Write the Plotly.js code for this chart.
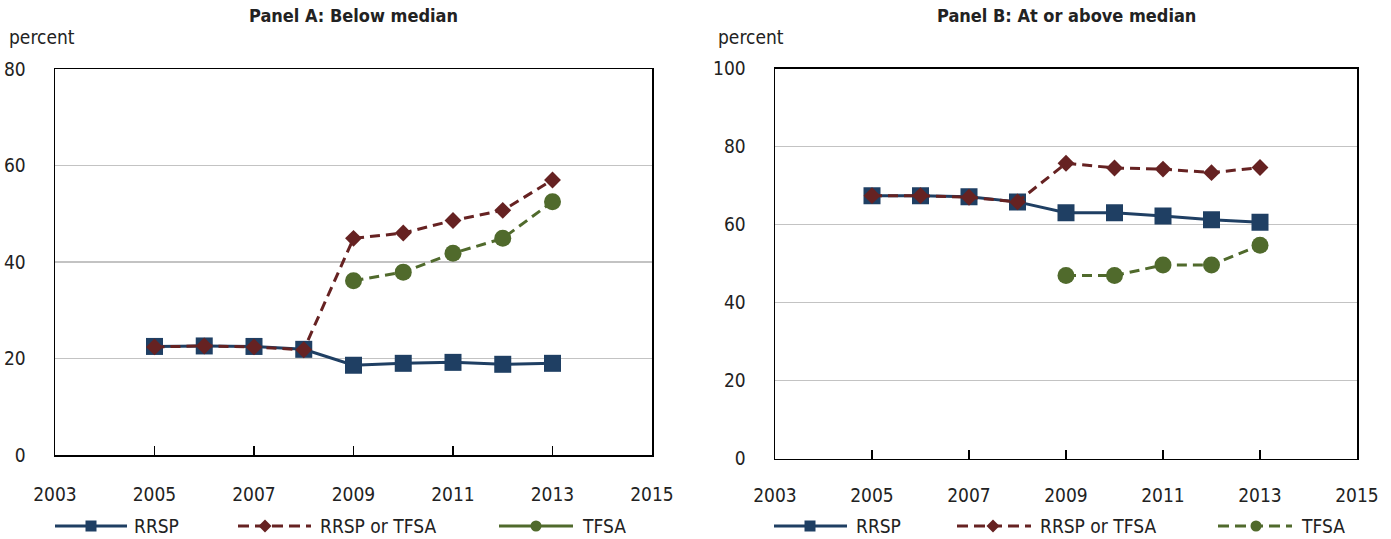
<!DOCTYPE html>
<html>
<head>
<meta charset="utf-8">
<script src="https://cdn.plot.ly/plotly-3.0.1.min.js"></script>
<style>html,body{margin:0;padding:0;background:#fff;}#chart{width:1391px;height:539px;}</style>
</head>
<body>
<div id="chart"></div>
<script>
// ---- data ----
const years = [2005, 2006, 2007, 2008, 2009, 2010, 2011, 2012, 2013];
const tfsaYears = [2009, 2010, 2011, 2012, 2013];

const panelA_RRSP = [22.5, 22.6, 22.5, 21.9, 18.6, 19.0, 19.2, 18.8, 19.0];
const panelA_RRSPorTFSA = [22.4, 22.6, 22.4, 21.8, 44.9, 46.0, 48.6, 50.7, 57.0];
const panelA_TFSA = [36.1, 37.9, 41.8, 44.9, 52.5];

const panelB_RRSP = [67.4, 67.4, 67.1, 65.8, 63.0, 63.0, 62.2, 61.2, 60.6];
const panelB_RRSPorTFSA = [67.4, 67.4, 67.0, 65.8, 75.7, 74.5, 74.2, 73.3, 74.6];
const panelB_TFSA = [46.9, 46.9, 49.6, 49.6, 54.7];

const seriesNames = ["RRSP", "RRSP or TFSA", "TFSA"];
const xTicks = [2003, 2005, 2007, 2009, 2011, 2013, 2015];
const yTicksA = [0, 20, 40, 60, 80];
const yTicksB = [0, 20, 40, 60, 80, 100];
const titles = ["Panel A: Below median", "Panel B: At or above median"];
const unitLabel = "percent";

// ---- styles ----
const W = 1391, H = 539;
const FONT = "'Liberation Sans Narrow', 'Arial Narrow', 'DejaVu Sans Condensed', sans-serif";
const NAVY = "#1f3f63", MAROON = "#662222", OLIVE = "#506a2c";
const DASH = "10px,6px";
const px = x => x / W;
const py = y => 1 - y / H;

function trace(x, y, name, color, dash, symbol, size, xa, ya) {
  return {
    x: x, y: y, name: name, type: "scatter", mode: "lines+markers",
    xaxis: xa, yaxis: ya, showlegend: false, hoverinfo: "skip",
    line: {color: color, width: 3, dash: dash},
    marker: {color: color, symbol: symbol, size: size, line: {width: 0}}
  };
}

const data = [
  trace(years, panelA_RRSP, seriesNames[0], NAVY, "solid", "square", 17, "x", "y"),
  trace(years, panelA_RRSPorTFSA, seriesNames[1], MAROON, DASH, "diamond", 13, "x", "y"),
  trace(tfsaYears, panelA_TFSA, seriesNames[2], OLIVE, DASH, "circle", 17, "x", "y"),
  trace(years, panelB_RRSP, seriesNames[0], NAVY, "solid", "square", 17, "x2", "y2"),
  trace(years, panelB_RRSPorTFSA, seriesNames[1], MAROON, DASH, "diamond", 13, "x2", "y2"),
  trace(tfsaYears, panelB_TFSA, seriesNames[2], OLIVE, DASH, "circle", 17, "x2", "y2")
];

function xaxis(domain, anchor, standoff) {
  return {
    domain: domain, anchor: anchor, range: [2003, 2015],
    tickvals: xTicks, ticktext: xTicks.map(String),
    ticks: "inside", ticklen: 9, tickwidth: 1.3, tickcolor: "#000",
    showline: true, mirror: true, linecolor: "#000", linewidth: 1.5,
    showgrid: false, zeroline: false, fixedrange: true,
    ticklabelstandoff: standoff,
    tickfont: {family: FONT, size: 19, color: "#222"}
  };
}
function yaxis(domain, anchor, range, ticks) {
  return {
    domain: domain, anchor: anchor, range: range,
    tickvals: ticks, ticktext: ticks.map(String), ticks: "",
    showline: true, mirror: true, linecolor: "#000", linewidth: 1.5,
    showgrid: true, gridcolor: "#c3c3c3", gridwidth: 1.3,
    zeroline: false, fixedrange: true, ticklabelstandoff: 24,
    tickfont: {family: FONT, size: 19, color: "#222"}
  };
}

const shapes = [];
const annotations = [];

function text(x, y, t, anchor, size, bold) {
  annotations.push({
    xref: "paper", yref: "paper", x: px(x), y: py(y), text: bold ? "<b>" + t + "</b>" : t,
    showarrow: false, xanchor: anchor, yanchor: "middle",
    font: {family: FONT, size: size, color: "#222"}
  });
}

function legendItem(x0, x1, mx, tx, yc, color, dashed, symbol, label) {
  shapes.push({type: "line", xref: "paper", yref: "paper",
    x0: px(x0), x1: px(x1), y0: py(yc), y1: py(yc),
    line: {color: color, width: 3, dash: dashed ? "11px,6px" : "solid"}});
  const r = 5.5;
  if (symbol === "square") {
    shapes.push({type: "rect", xref: "paper", yref: "paper",
      x0: px(mx - r), x1: px(mx + r), y0: py(yc + r), y1: py(yc - r),
      fillcolor: color, line: {width: 0}});
  } else if (symbol === "circle") {
    shapes.push({type: "circle", xref: "paper", yref: "paper",
      x0: px(mx - r), x1: px(mx + r), y0: py(yc + r), y1: py(yc - r),
      fillcolor: color, line: {width: 0}});
  } else {
    const d = 6.5;
    shapes.push({type: "path", xref: "paper", yref: "paper",
      path: "M" + px(mx - d) + "," + py(yc) + " L" + px(mx) + "," + py(yc - d) +
            " L" + px(mx + d) + "," + py(yc) + " L" + px(mx) + "," + py(yc + d) + " Z",
      fillcolor: color, line: {width: 0}});
  }
  text(tx, yc, label, "left", 19, false);
}

// Panel A legend (TFSA sample solid as in the reference)
legendItem(55, 127, 91, 132, 526, NAVY, false, "square", seriesNames[0]);
legendItem(238, 311, 265, 318, 526, MAROON, true, "diamond", seriesNames[1]);
legendItem(499, 573, 536, 580, 526, OLIVE, false, "circle", seriesNames[2]);
// Panel B legend
legendItem(774, 847, 810, 854, 526, NAVY, false, "square", seriesNames[0]);
legendItem(957, 1031, 993, 1038, 526, MAROON, true, "diamond", seriesNames[1]);
legendItem(1218, 1292, 1256, 1299, 526, OLIVE, true, "circle", seriesNames[2]);

// titles and unit labels
text(353.5, 16, titles[0], "center", 18, true);
text(1066, 16, titles[1], "center", 18, true);
text(7, 37, unitLabel, "left", 19, false);
text(716, 37, unitLabel, "left", 19, false);

const layout = {
  width: W, height: H,
  margin: {l: 0, r: 0, t: 0, b: 0},
  paper_bgcolor: "#fff", plot_bgcolor: "#fff",
  showlegend: false,
  font: {family: FONT, size: 19, color: "#222"},
  xaxis: xaxis([px(55), px(652)], "y", 22),
  yaxis: yaxis([py(455), py(69)], "x", [0, 80], yTicksA),
  xaxis2: xaxis([px(775), px(1357)], "y2", 19),
  yaxis2: yaxis([py(458.5), py(68.5)], "x2", [0, 100], yTicksB),
  shapes: shapes,
  annotations: annotations
};

Plotly.newPlot("chart", data, layout, {displayModeBar: false, staticPlot: true});
</script>
</body>
</html>
